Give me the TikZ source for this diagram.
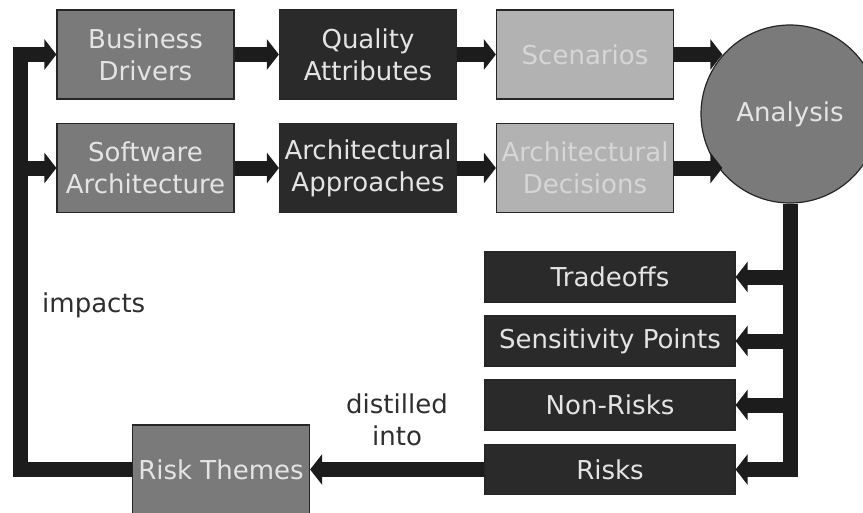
\documentclass[tikz,border=0pt]{standalone}
\usepackage{fontspec}
\setmainfont{DejaVu Sans}
\usetikzlibrary{arrows.meta}

\definecolor{midgray}{HTML}{7A7A7A}
\definecolor{darkbox}{HTML}{2A2A2A}
\definecolor{lightbox}{HTML}{B2B2B2}
\definecolor{lighttext}{HTML}{D6D6D6}
\definecolor{boxtext}{HTML}{E4E4E4}
\definecolor{flow}{HTML}{1C1C1C}
\definecolor{labeltext}{HTML}{2E2E2E}

\tikzset{
  every node/.style={font=\fontsize{26}{32}\selectfont, align=center, inner sep=0pt},
  card/.style={draw=black!85, line width=1.2pt, minimum width=#1, minimum height=89pt},
  card/.default=177pt,
  midcard/.style={card, fill=midgray, text=boxtext},
  darkcard/.style={card, fill=darkbox, text=boxtext},
  lightcard/.style={card, fill=lightbox, text=lighttext},
  outcome/.style={draw=black!85, line width=1.2pt, fill=darkbox, text=boxtext,
                  minimum width=250pt, minimum height=50pt},
  flowline/.style={draw=flow, line width=15pt, line join=miter},
  flowarrow/.style={flowline, -{Triangle[length=12pt, width=30pt]}, shorten >=0pt},
  note/.style={text=labeltext}
}

\begin{document}
\begin{tikzpicture}[x=1pt, y=-1pt]
  \useasboundingbox (0,0) rectangle (863,512);
  \clip (0,0) rectangle (863,512);

  % inputs
  \node[midcard]  (bd) at (145.5,54.5) {Business\\Drivers};
  \node[midcard]  (sa) at (145.5,168)  {Software\\Architecture};
  \node[darkcard] (qa) at (368,54.5)   {Quality\\Attributes};
  \node[darkcard] (aa) at (368,168)    {Architectural\\Approaches};
  \node[lightcard=176pt] (sc) at (585,54.5) {Scenarios};
  \node[lightcard=176pt] (ad) at (585,168)  {Architectural\\Decisions};

  % analysis hub
  \node[circle, draw=black!85, line width=1.2pt, fill=midgray, text=boxtext,
        minimum size=178pt] (an) at (790,114) {Analysis};

  % outputs
  \node[outcome] (to) at (610,277)   {Tradeoffs};
  \node[outcome] (sp) at (610,341)   {Sensitivity Points};
  \node[outcome] (nr) at (610,405)   {Non-Risks};
  \node[outcome] (rk) at (610,469.5) {Risks};
  \node[midcard=210pt] (rt) at (221,469.5) {Risk Themes};

  % labels
  \node[note, anchor=west] (imp) at (42,305) {impacts};
  \node[note] (dist) at (397,420) {distilled\\into};

  % input flows
  \draw[flowarrow] (bd.east) -- (qa.west);
  \draw[flowarrow] (qa.east) -- (sc.west);
  \draw[flowarrow] (sa.east) -- (aa.west);
  \draw[flowarrow] (aa.east) -- (ad.west);
  \draw[flowarrow] (sc.east) -- (sc.east -| an.139);
  \draw[flowarrow] (ad.east) -- (ad.east -| an.221);

  % analysis results
  \draw[flowarrow] (an.south) |- (rk.east);
  \draw[flowarrow] (to.east -| an.south) -- (to.east);
  \draw[flowarrow] (sp.east -| an.south) -- (sp.east);
  \draw[flowarrow] (nr.east -| an.south) -- (nr.east);
  \draw[flowarrow] (rk.west) -- (rt.east);

  % feedback loop
  \coordinate (loop) at (20.5,54.5);
  \draw[flowarrow] (rt.west) -| (loop) -- (bd.west);
  \draw[flowarrow] (loop |- sa.west) -- (sa.west);
\end{tikzpicture}
\end{document}
